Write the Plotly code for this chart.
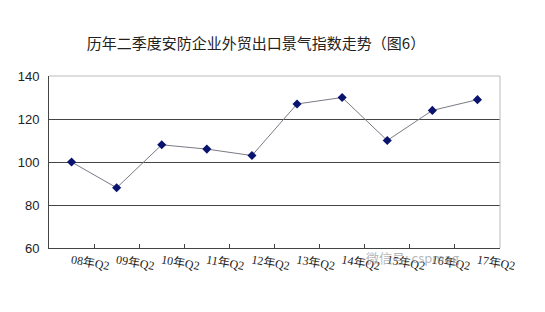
import plotly.graph_objects as go

categories = ["08年Q2", "09年Q2", "10年Q2", "11年Q2", "12年Q2",
              "13年Q2", "14年Q2", "15年Q2", "16年Q2", "17年Q2"]
values = [100, 88, 108, 106, 103, 127, 130, 110, 124, 129]
y_ticks = [60, 80, 100, 120, 140]

fig = go.Figure()
fig.add_trace(go.Scatter(
    x=categories, y=values, mode="lines+markers",
    line=dict(color="#7a7a86", width=1),
    marker=dict(symbol="diamond", size=7, color="#0a1470"),
    cliponaxis=False, showlegend=False,
))

fig.update_layout(
    width=545, height=312,
    margin=dict(l=49, r=45, t=76, b=64),
    paper_bgcolor="white", plot_bgcolor="white",
    title=dict(text="历年二季度安防企业外贸出口景气指数走势（图6）",
               x=256 / 545, xanchor="center", y=1 - 44 / 312, yanchor="middle",
               font=dict(family="Noto Sans CJK SC", size=15, color="#222")),
    xaxis=dict(
        type="category", range=[-0.5, 9.5],
        showgrid=False, showline=True, linecolor="#444", linewidth=1,
        ticks="inside", ticklen=4, tickcolor="#444", tickson="boundaries",
        tickangle=10,
        tickfont=dict(family="Liberation Serif, Noto Sans CJK SC", size=12, color="#222"),
    ),
    yaxis=dict(
        range=[60, 140], tickvals=y_ticks, showgrid=True, gridcolor="#444", gridwidth=1,
        showline=True, linecolor="#444", linewidth=1, ticks="", zeroline=False,
        ticklabelstandoff=6,
        tickfont=dict(family="Liberation Sans, Arial", size=13, color="#222"),
    ),
    shapes=[
        dict(type="line", xref="paper", yref="paper", x0=0, x1=1, y0=1, y1=1,
             line=dict(color="#bbbbbb", width=1)),
        dict(type="line", xref="paper", yref="paper", x0=1, x1=1, y0=0, y1=1,
             line=dict(color="#bbbbbb", width=1)),
    ],
    annotations=[
        dict(text="微信号: cspmag", x=(462 - 49) / 451, y=(248 - 257) / 172,
             xref="paper", yref="paper",
             xanchor="right", yanchor="middle", showarrow=False,
             font=dict(family="Noto Sans CJK SC", size=13, color="rgba(150,150,150,0.7)")),
    ],
)

fig.write_html("out.html")
